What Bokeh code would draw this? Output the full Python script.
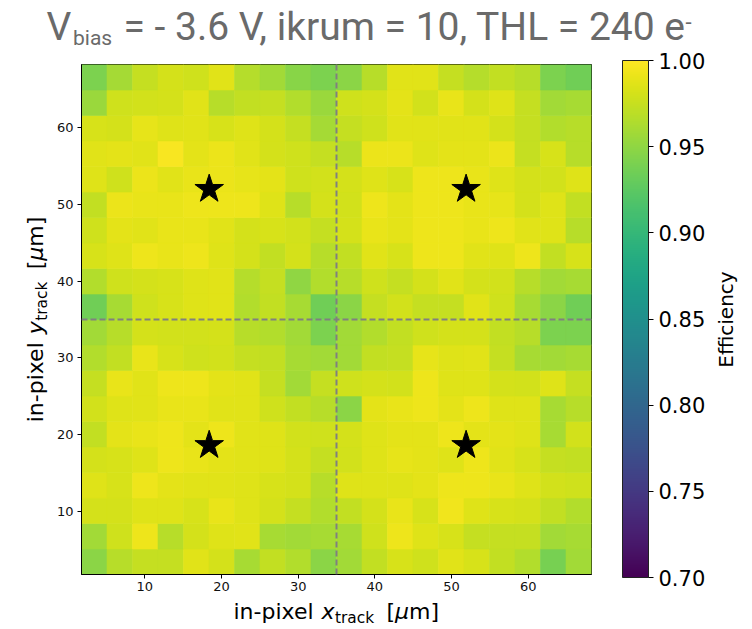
import numpy as np
from bokeh.plotting import figure
from bokeh.layouts import column, row
from bokeh.models import (ColumnDataSource, LinearColorMapper, ColorBar, FixedTicker,
                          PrintfTickFormatter, Span, Label, Range1d)
from bokeh.palettes import Viridis256
from bokeh.embed import file_html
from bokeh.resources import INLINE

# ---------------- data ----------------
x_min, x_max = 1.75, 68.25
y_min, y_max = 1.75, 68.25
n_bins = 20
pixel_boundary = 35.0
axis_ticks = [10, 20, 30, 40, 50, 60]
cbar_ticks = [0.70, 0.75, 0.80, 0.85, 0.90, 0.95, 1.00]
eff_low, eff_high = 0.70, 1.00
star_x = [18.4, 51.9, 18.4, 51.9]
star_y = [52.0, 52.0, 18.6, 18.6]

# efficiency rows, from bottom (y bin 0) to top (y bin 19), columns left -> right
efficiency = [
    [0.948, 0.968, 0.974, 0.974, 0.986, 0.981, 0.961, 0.972, 0.965, 0.948, 0.958, 0.972, 0.982, 0.978, 0.986, 0.982, 0.972, 0.965, 0.938, 0.958],
    [0.958, 0.978, 0.992, 0.968, 0.981, 0.985, 0.987, 0.961, 0.958, 0.961, 0.961, 0.978, 0.992, 0.985, 0.982, 0.974, 0.974, 0.974, 0.958, 0.961],
    [0.981, 0.981, 0.985, 0.985, 0.982, 0.990, 0.985, 0.981, 0.974, 0.965, 0.972, 0.981, 0.990, 0.982, 0.993, 0.985, 0.982, 0.981, 0.972, 0.965],
    [0.985, 0.982, 0.992, 0.988, 0.987, 0.987, 0.985, 0.982, 0.981, 0.968, 0.985, 0.985, 0.985, 0.988, 0.992, 0.992, 0.990, 0.985, 0.979, 0.978],
    [0.981, 0.982, 0.985, 0.992, 0.990, 0.988, 0.987, 0.985, 0.981, 0.974, 0.979, 0.985, 0.989, 0.988, 0.985, 0.992, 0.987, 0.982, 0.974, 0.972],
    [0.972, 0.988, 0.990, 0.992, 0.988, 0.992, 0.987, 0.985, 0.979, 0.978, 0.981, 0.985, 0.988, 0.988, 0.992, 0.988, 0.988, 0.985, 0.961, 0.979],
    [0.979, 0.985, 0.987, 0.990, 0.990, 0.987, 0.987, 0.978, 0.972, 0.968, 0.948, 0.988, 0.990, 0.992, 0.988, 0.992, 0.985, 0.985, 0.961, 0.968],
    [0.974, 0.990, 0.986, 0.992, 0.992, 0.988, 0.987, 0.974, 0.958, 0.974, 0.978, 0.981, 0.979, 0.992, 0.985, 0.985, 0.981, 0.979, 0.985, 0.974],
    [0.965, 0.972, 0.990, 0.982, 0.978, 0.979, 0.974, 0.972, 0.961, 0.958, 0.958, 0.972, 0.974, 0.989, 0.985, 0.987, 0.974, 0.961, 0.958, 0.961],
    [0.958, 0.968, 0.981, 0.979, 0.979, 0.981, 0.968, 0.965, 0.958, 0.941, 0.958, 0.965, 0.972, 0.978, 0.981, 0.981, 0.972, 0.968, 0.941, 0.941],
    [0.935, 0.961, 0.978, 0.982, 0.985, 0.987, 0.965, 0.972, 0.961, 0.935, 0.948, 0.974, 0.979, 0.974, 0.974, 0.986, 0.978, 0.961, 0.948, 0.935],
    [0.965, 0.978, 0.981, 0.982, 0.985, 0.986, 0.967, 0.974, 0.950, 0.965, 0.968, 0.978, 0.974, 0.981, 0.987, 0.981, 0.979, 0.968, 0.958, 0.961],
    [0.982, 0.985, 0.992, 0.990, 0.992, 0.985, 0.981, 0.972, 0.981, 0.968, 0.972, 0.987, 0.982, 0.992, 0.992, 0.987, 0.985, 0.992, 0.972, 0.982],
    [0.978, 0.988, 0.987, 0.990, 0.990, 0.987, 0.981, 0.982, 0.979, 0.974, 0.981, 0.990, 0.988, 0.992, 0.992, 0.990, 0.992, 0.987, 0.985, 0.968],
    [0.972, 0.991, 0.990, 0.990, 0.992, 0.992, 0.992, 0.985, 0.968, 0.981, 0.979, 0.992, 0.988, 0.992, 0.992, 0.990, 0.989, 0.981, 0.985, 0.972],
    [0.985, 0.978, 0.991, 0.987, 0.990, 0.991, 0.989, 0.988, 0.978, 0.979, 0.981, 0.985, 0.982, 0.992, 0.992, 0.990, 0.985, 0.981, 0.979, 0.985],
    [0.986, 0.988, 0.986, 0.997, 0.988, 0.991, 0.987, 0.981, 0.978, 0.974, 0.968, 0.991, 0.991, 0.985, 0.988, 0.988, 0.991, 0.974, 0.982, 0.968],
    [0.982, 0.981, 0.989, 0.985, 0.986, 0.982, 0.985, 0.981, 0.974, 0.960, 0.974, 0.978, 0.986, 0.986, 0.987, 0.987, 0.981, 0.974, 0.965, 0.968],
    [0.955, 0.978, 0.980, 0.981, 0.986, 0.968, 0.973, 0.974, 0.965, 0.955, 0.978, 0.981, 0.988, 0.979, 0.990, 0.981, 0.985, 0.974, 0.958, 0.961],
    [0.941, 0.960, 0.974, 0.981, 0.978, 0.987, 0.967, 0.958, 0.947, 0.941, 0.948, 0.968, 0.986, 0.986, 0.974, 0.967, 0.972, 0.968, 0.941, 0.935],
]

# ---------------- layout geometry (page pixels) ----------------
TOTAL_W = 748
TITLE_H = 50
YLAB_W = 50
M_BL, M_BT, M_BB, M_BR = 31, 14, 26, 124
FW, FH = 510, 510
MAIN_W = M_BL + FW + M_BR
MAIN_H = M_BT + FH + M_BB
XLAB_H = 27
MID_TOP = TITLE_H
MID_BOT = TITLE_H + MAIN_H
FRAME_TOP = MID_TOP + M_BT
FRAME_BOT = FRAME_TOP + FH

# ---------------- main heatmap ----------------
x_edges = np.linspace(x_min, x_max, n_bins + 1)
y_edges = np.linspace(y_min, y_max, n_bins + 1)
L, R, B, T, V = [], [], [], [], []
for j, rvals in enumerate(efficiency):
    for i, val in enumerate(rvals):
        L.append(x_edges[i]); R.append(x_edges[i + 1])
        B.append(y_edges[j]); T.append(y_edges[j + 1])
        V.append(val)
src = ColumnDataSource(dict(left=L, right=R, bottom=B, top=T, eff=V))

mapper = LinearColorMapper(palette=Viridis256, low=eff_low, high=eff_high)

p = figure(width=MAIN_W, height=MAIN_H, output_backend="svg", toolbar_location=None,
           x_range=Range1d(x_min, x_max), y_range=Range1d(y_min, y_max),
           min_border_left=M_BL, min_border_right=M_BR, min_border_top=M_BT,
           min_border_bottom=M_BB)
p.xgrid.visible = False
p.ygrid.visible = False
p.outline_line_color = "black"
p.outline_line_width = 1
p.background_fill_color = "white"

p.quad(left="left", right="right", bottom="bottom", top="top", source=src,
       fill_color={"field": "eff", "transform": mapper},
       line_color={"field": "eff", "transform": mapper}, line_width=0.6)

for ax in (p.xaxis[0], p.yaxis[0]):
    ax.ticker = FixedTicker(ticks=axis_ticks)
    ax.major_label_text_font = "DejaVu Sans"
    ax.major_label_text_font_size = "13px"
    ax.major_label_text_color = "#111111"
    ax.major_tick_out = 4
    ax.major_tick_in = 0
    ax.minor_tick_line_color = None
    ax.axis_line_color = "black"
    ax.major_tick_line_color = "black"
p.xaxis.major_label_standoff = 3
p.yaxis.major_label_standoff = 4

for loc, dim in ((pixel_boundary, "height"), (pixel_boundary, "width")):
    p.add_layout(Span(location=loc, dimension=dim, line_color="#808080",
                      line_width=2, line_dash="6 3"))

p.scatter(star_x, star_y, marker="star", size=30, fill_color="black", line_color="black")

cb = ColorBar(color_mapper=mapper, width=26, height=517, location=(31, -3),
              padding=0, margin=0,
              ticker=FixedTicker(ticks=cbar_ticks),
              formatter=PrintfTickFormatter(format="%.2f"),
              major_tick_out=5, major_tick_in=0, major_tick_line_color="black",
              minor_tick_line_color=None,
              bar_line_color="#222222", bar_line_width=1,
              major_label_text_font="DejaVu Sans", major_label_text_font_size="21px",
              major_label_text_color="black",
              label_standoff=5, border_line_color=None, background_fill_color=None)
p.add_layout(cb, "right")


# ---------------- text strips (coordinates = page pixels) ----------------
def strip(x0, x1, y0, y1, fy0=None, fy1=None):
    # fy0/fy1: page rows covered by the strip's frame (frames in a row are aligned)
    fy0 = y0 if fy0 is None else fy0
    fy1 = y1 if fy1 is None else fy1
    f = figure(width=int(x1 - x0), height=int(y1 - y0), output_backend="svg",
               toolbar_location=None, x_axis_type=None, y_axis_type=None,
               x_range=Range1d(x0, x1), y_range=Range1d(fy1, fy0),
               min_border=0, outline_line_color=None)
    f.background_fill_color = "white"
    f.border_fill_color = "white"
    return f


MID = 0.34  # em-box middle above the alphabetic baseline


def lab(f, text, px, base, size, font="DejaVu Sans", style="normal", color="black",
        rotated=False, align="left"):
    # 'base' is the baseline position in page pixels; anchor at the em middle
    if rotated:
        x, y, ang = base - MID * size, px, np.pi / 2
    else:
        x, y, ang = px, base - MID * size, 0.0
    f.add_layout(Label(x=x, y=y, text=text, text_font=font,
                       text_font_size=f"{size}px", text_font_style=style,
                       text_color=color, angle=ang, text_align=align,
                       text_baseline="middle"))


title_fig = strip(0, TOTAL_W, 0, TITLE_H)
TFONT = "Roboto"
TCOL = "#6a6a6a"
lab(title_fig, "V", 46, 40, 39, font=TFONT, color=TCOL)
lab(title_fig, "bias", 72.5, 44.5, 21, font=TFONT, color=TCOL)
lab(title_fig, "= - 3.6 V, ikrum = 10, THL = 240 e", 123, 40, 39, font=TFONT, color=TCOL)
lab(title_fig, "-", 685, 28.5, 22, font=TFONT, color=TCOL)

ylab_fig = strip(0, YLAB_W, MID_TOP, MID_BOT, FRAME_TOP, FRAME_BOT)
yb = 42
ys = 421.8
lab(ylab_fig, "in-pixel", ys, yb, 22, rotated=True)
lab(ylab_fig, "y", ys - 88, yb, 22, style="italic", rotated=True)
lab(ylab_fig, "track", ys - 101.5, yb + 4.5, 15.4, rotated=True)
lab(ylab_fig, "[", ys - 153, yb, 22, rotated=True)
lab(ylab_fig, "\u03bc", ys - 161.6, yb, 22, style="italic", rotated=True)
lab(ylab_fig, "m]", ys - 175.6, yb, 22, rotated=True)

eff_x0 = YLAB_W + MAIN_W
eff_fig = strip(eff_x0, TOTAL_W, MID_TOP, MID_BOT, FRAME_TOP, FRAME_BOT)
eff_fig.add_layout(Label(x=725, y=319, text="Efficiency", text_font="DejaVu Sans",
                         text_font_size="20px", angle=np.pi / 2, text_align="center",
                         text_baseline="middle", text_color="black"))

xlab_fig = strip(0, TOTAL_W, MID_BOT, MID_BOT + XLAB_H)
xb = 618
lab(xlab_fig, "in-pixel", 233, xb, 22)
lab(xlab_fig, "x", 321, xb, 22, style="italic")
lab(xlab_fig, "track", 334.5, xb + 4.5, 15.4)
lab(xlab_fig, "[", 386, xb, 22)
lab(xlab_fig, "\u03bc", 394.6, xb, 22, style="italic")
lab(xlab_fig, "m]", 408.6, xb, 22)

layout = column(title_fig, row(ylab_fig, p, eff_fig, spacing=0), xlab_fig, spacing=0)

open("out.html", "w").write(file_html(layout, INLINE))
